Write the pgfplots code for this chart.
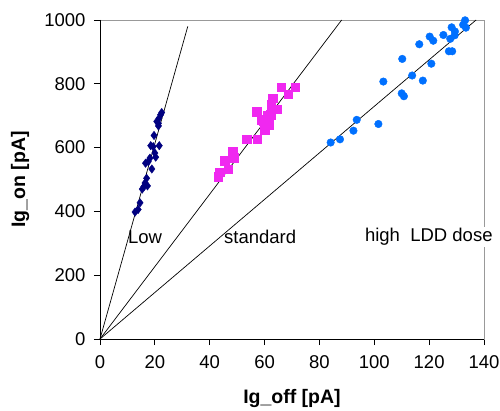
\documentclass[border=0pt]{standalone}
\usepackage{fontspec}
\setmainfont{Liberation Sans}
\usepackage{pgfplots}
\pgfplotsset{compat=1.18}
\definecolor{lowc}{RGB}{0,0,128}
\definecolor{stdc}{RGB}{240,40,240}
\definecolor{highc}{RGB}{0,112,255}
\begin{document}
\begin{tikzpicture}
\begin{axis}[
  scale only axis, width=384pt, height=319pt,
  xmin=0, xmax=140, ymin=0, ymax=1000,
  xtick={0,20,...,140}, ytick={0,200,...,1000},
  tick pos=left, tick align=outside, major tick length=6pt,
  axis line style={draw=black!40, line width=0.8pt},
  tick style={black, line width=0.8pt},
  /pgf/number format/assume math mode=true,
  /pgf/number format/1000 sep={},
  ticklabel style={font=\fontsize{18.5}{22}\selectfont},
  xticklabel style={yshift=-7pt},
  yticklabel style={xshift=-5pt},
  xlabel={Ig\_off [pA]}, ylabel={Ig\_on [pA]},
  label style={font=\fontsize{19.5}{23}\selectfont\bfseries},
  xlabel style={at={(axis description cs:0.5,-0.185)}, anchor=center},
  ylabel style={at={(axis description cs:-0.208,0.5)}, anchor=center},
  clip=false,
]
\draw[black, line width=0.8pt] (rel axis cs:0,1) -- (rel axis cs:0,0) -- (rel axis cs:1,0);
\addplot[black, line width=0.7pt, mark=none] coordinates {(0,0) (32,980)};
\addplot[black, line width=0.7pt, mark=none] coordinates {(0,0) (88.1,1000)};
\addplot[black, line width=0.7pt, mark=none] coordinates {(0,0) (137.1,1000)};
\addplot[only marks, mark=diamond*, mark size=4.2pt, color=lowc] coordinates {
(12.8,398) (13.9,406) (14.6,427) (15.4,470) (16.0,478) (16.4,489) (17.0,504) (17.3,480)
(16.6,551) (17.6,556) (18.2,567) (18.9,533) (18.5,606) (19.4,603) (19.7,638) (20.0,583)
(20.3,570) (21.6,606) (20.7,682) (21.3,676) (21.5,692) (22.1,703) (22.5,710) (21.3,668)
};
\addplot[only marks, mark=square*, mark size=4.2pt, color=stdc] coordinates {
(43.1,509) (43.6,522) (45.4,559) (46.8,533) (48.4,587) (49.0,568) (53.5,626) (57.3,626)
(57.2,713) (58.7,687) (59.5,682) (60.1,656) (60.9,702) (61.6,672) (62.2,703) (62.5,735)
(62.9,754) (64.4,720) (66.0,789) (68.7,768) (71.2,789)
};
\addplot[only marks, mark=*, mark size=3.8pt, color=highc] coordinates {
(84.1,616) (87.5,626) (92.4,653) (93.6,687) (101.5,674) (103.3,807) (110.0,770) (110.8,761)
(110.2,878) (113.8,826) (117.7,810) (116.4,924) (120.8,863) (120.2,948) (121.5,935) (125.2,953)
(127.2,902) (128.4,902) (128.2,977) (129.3,952) (127.7,941) (133.1,999) (133.4,976) (132.4,985)
(129.4,964)
};
\node[anchor=west, inner sep=0pt, font=\fontsize{18.5}{22}\selectfont] at (axis cs:10.2,320) {Low};
\node[anchor=west, inner sep=0pt, font=\fontsize{18.5}{22}\selectfont] at (axis cs:45.2,320) {standard};
\node[anchor=west, inner sep=1pt, fill=white, font=\fontsize{18.5}{22}\selectfont] at (axis cs:96.2,320) {high\ \ LDD dose};
\end{axis}
\path (current axis.south west) ++(-100pt,-71pt) coordinate (bbA);
\path (current axis.north east) ++(16pt,20pt) coordinate (bbB);
\pgfresetboundingbox
\path (bbA) rectangle (bbB);
\end{tikzpicture}
\end{document}
